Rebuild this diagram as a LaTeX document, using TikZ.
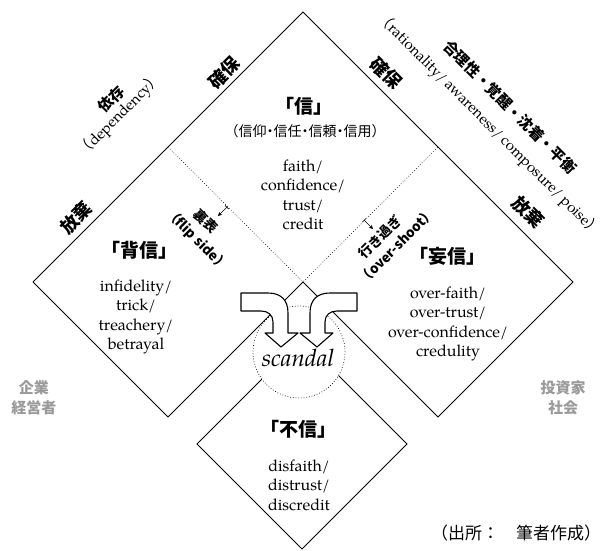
\documentclass[tikz,border=0pt]{standalone}
\usepackage{fontspec}
\setmainfont{TeX Gyre Pagella}
\newfontfamily\jp{Noto Sans CJK JP}
\usetikzlibrary{arrows.meta}
\definecolor{lbl}{HTML}{9A9A9A}
\newcommand{\ndot}{\kern-.25em・\kern-.25em}
\begin{document}
\begin{tikzpicture}[x=1pt,y=-1pt,
  edge/.style={line width=0.8pt},
  inner/.style={line width=0.7pt, dotted},
  title/.style={font=\jp\bfseries\fontsize{19}{22}\selectfont, inner sep=0pt},
  sub/.style={font=\jp\fontsize{14}{16}\selectfont, inner sep=0pt},
  body/.style={font=\fontsize{16}{19.5}\selectfont, align=center, inner sep=0pt},
  side/.style={font=\jp\bfseries\fontsize{18}{20}\selectfont, inner sep=0pt},
  sidetwo/.style={font=\jp\bfseries\fontsize{15}{17}\selectfont, inner sep=0pt},
  paren/.style={font=\fontsize{15}{17}\selectfont, inner sep=0pt},
  small/.style={font=\jp\bfseries\fontsize{13.5}{15}\selectfont, inner sep=0pt},
  grey/.style={font=\jp\bfseries\fontsize{15}{20}\selectfont, text=lbl, align=center, inner sep=0pt},
  bigarrow/.style={line width=1.1pt, fill=white, line join=round},
  tickar/.style={line width=0.6pt, {Bar[width=5pt]}-{Stealth[length=4pt,width=4pt]}}
]
\useasboundingbox (0,0) rectangle (606,551);
% corner points
\coordinate (T) at (303,12);
\coordinate (L) at (33,282);
\coordinate (R) at (573,282);
\coordinate (L1) at (168,147);
\coordinate (R1) at (438,147);
\coordinate (C) at (303,282);
\coordinate (LB) at (168,417);
\coordinate (RB) at (438,417);
\coordinate (BT) at (302,339);
\coordinate (BL) at (197,444);
\coordinate (BR) at (407,444);
\coordinate (BB) at (302,549);
% squares
\draw[edge] (L) -- (T) -- (R);
\draw[edge] (L) -- (LB) -- (C) -- (RB) -- (R);
\draw[inner] (L1) -- (C) -- (R1);
\draw[edge] (BL) -- (BT) -- (BR) -- (BB) -- cycle;
% scandal circle
\node[circle, draw, dotted, line width=0.7pt, fill=white, minimum size=92pt, inner sep=0pt] (ring) at (299,352) {};
\node[font=\itshape\fontsize{24}{26}\selectfont, inner sep=0pt] (scandal) at (298,358) {scandal};
% curved hollow arrows
\draw[bigarrow] (241,293) -- (268,293) .. controls (281,293) and (288,300) .. (288,313) -- (288,333) -- (298,333) -- (281,347) -- (265,333) -- (273,333) -- (273,322) .. controls (273,315) and (268,311) .. (261,311) -- (241,311) -- cycle;
\draw[bigarrow] (357,293) -- (330,293) .. controls (317,293) and (310,300) .. (310,313) -- (310,333) -- (300,333) -- (317,347) -- (333,333) -- (325,333) -- (325,322) .. controls (325,315) and (330,311) .. (337,311) -- (357,311) -- cycle;
% quadrant texts
\node[title] (xin) at (304,106) {「信」};
\node[sub] (xinsub) at (305,131) {（信仰\ndot 信任\ndot 信頼\ndot 信用）};
\node[body] (xinbody) at (303,195) {faith/\\confidence/\\trust/\\credit};
\node[title] (haishin) at (139,250) {「背信」};
\node[body] (haishinbody) at (136,317) {infidelity/\\trick/\\treachery/\\betrayal};
\node[title] (moushin) at (447,256) {「妄信」};
\node[body] (moushinbody) at (448,324) {over-faith/\\over-trust/\\over-confidence/\\credulity};
\node[title] (fushin) at (298,429) {「不信」};
\node[body] (fushinbody) at (299,485) {disfaith/\\distrust/\\discredit};
% side labels
\node[grey] (kigyo) at (34,398) {企業\\経営者};
\node[grey] (toshika) at (563,398) {投資家\\社会};
\node[font=\jp\fontsize{17}{19}\selectfont, inner sep=0pt] (source) at (516,533) {（出所：　筆者作成）};
% rotated edge labels
\node[side, rotate=45] (kakuhoL) at (224,73) {確保};
\node[side, rotate=45] (hokiL) at (76,218) {放棄};
\node[sidetwo, rotate=45] (izon) at (111,99) {依存};
\node[paren, rotate=45] (dep) at (120,115) {{\jp （}dependency{\jp ）}};
\node[side, rotate=-45] (kakuhoR) at (386,73) {確保};
\node[side, rotate=-45] (hokiR) at (528,212) {放棄};
\node[sidetwo, rotate=-45] (gori) at (510,107) {合理性・覚醒・沈着・平衡};
\node[paren, rotate=-45] (ration) at (489,125) {{\jp （}rationality/ awareness/ composure/ poise{\jp ）}};
% inner labels
\node[small, rotate=-45] (urao) at (206,221) {裏表};
\node[small, rotate=-45] (flip) at (197,240) {（flip side）};
\node[small, rotate=45] (yuki) at (380,237) {行き過ぎ};
\node[small, rotate=45] (over) at (397,246) {（over-shoot）};
\coordinate (fa) at (227,207);
\coordinate (fb) at (218,216);
\coordinate (oa) at (364,220);
\coordinate (ob) at (373,229);
\draw[tickar] (fa) -- (fb);
\draw[tickar] (oa) -- (ob);
\end{tikzpicture}
\end{document}
